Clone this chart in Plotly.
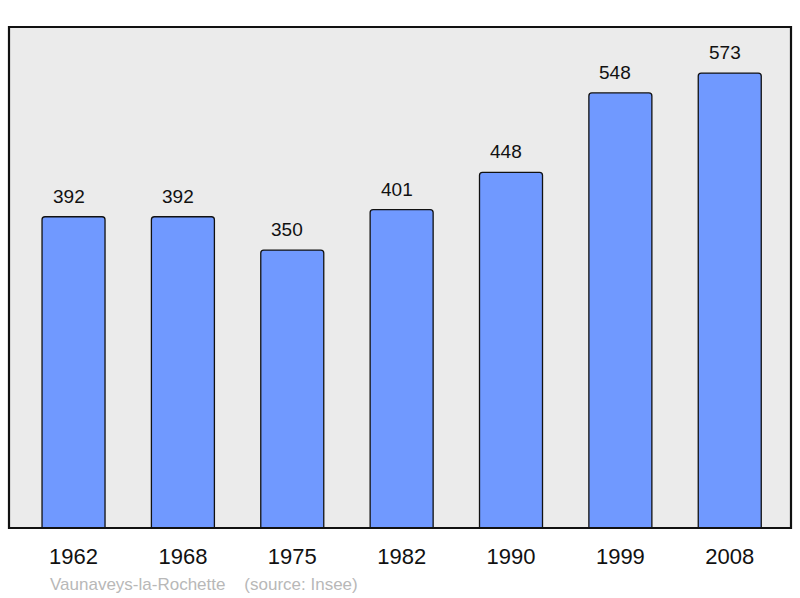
import plotly.graph_objects as go

years = ["1962", "1968", "1975", "1982", "1990", "1999", "2008"]
population = [392, 392, 350, 401, 448, 548, 573]
footer = "Vaunaveys-la-Rochette    (source: Insee)"

FONT = "Liberation Sans, Arial, sans-serif"

fig = go.Figure()
fig.add_trace(go.Bar(
    x=list(range(len(years))), y=population, width=0.576,
    marker=dict(color="#7099ff", line=dict(color="#111111", width=1.3), cornerradius=3),
    hoverinfo="skip",
))
for i, v in enumerate(population):
    fig.add_annotation(x=i, y=v, xref="x", yref="y", text=str(v), showarrow=False,
                       yanchor="bottom", yshift=8, xshift=-5,
                       font=dict(size=19, color="#111111", family=FONT))
fig.add_annotation(xref="paper", yref="paper", x=(48 - 9) / 782, y=-(584 - 528) / 501,
                   text=footer, showarrow=False, xanchor="left", yanchor="middle",
                   font=dict(size=17, color="#b8b8b8", family=FONT))
fig.add_shape(type="rect", xref="paper", yref="paper", x0=0, y0=0, x1=1, y1=1,
              line=dict(color="#111111", width=2.2), layer="above")
fig.update_layout(
    width=800, height=598,
    margin=dict(l=9, r=9, t=27, b=70),
    paper_bgcolor="white", plot_bgcolor="#ebebeb",
    showlegend=False,
    font=dict(family=FONT, color="#111111"),
    xaxis=dict(range=[-0.59, 6.56], showgrid=False, zeroline=False,
               tickmode="array", tickvals=list(range(len(years))), ticktext=years,
               ticks="outside", ticklen=9, tickcolor="rgba(0,0,0,0)",
               tickfont=dict(size=22, color="#111111")),
    yaxis=dict(range=[0, 631], showgrid=False, zeroline=False, showticklabels=False, ticks=""),
)
fig.write_html("out.html", config={"displayModeBar": False},
               post_script="document.body.style.margin='0';")
